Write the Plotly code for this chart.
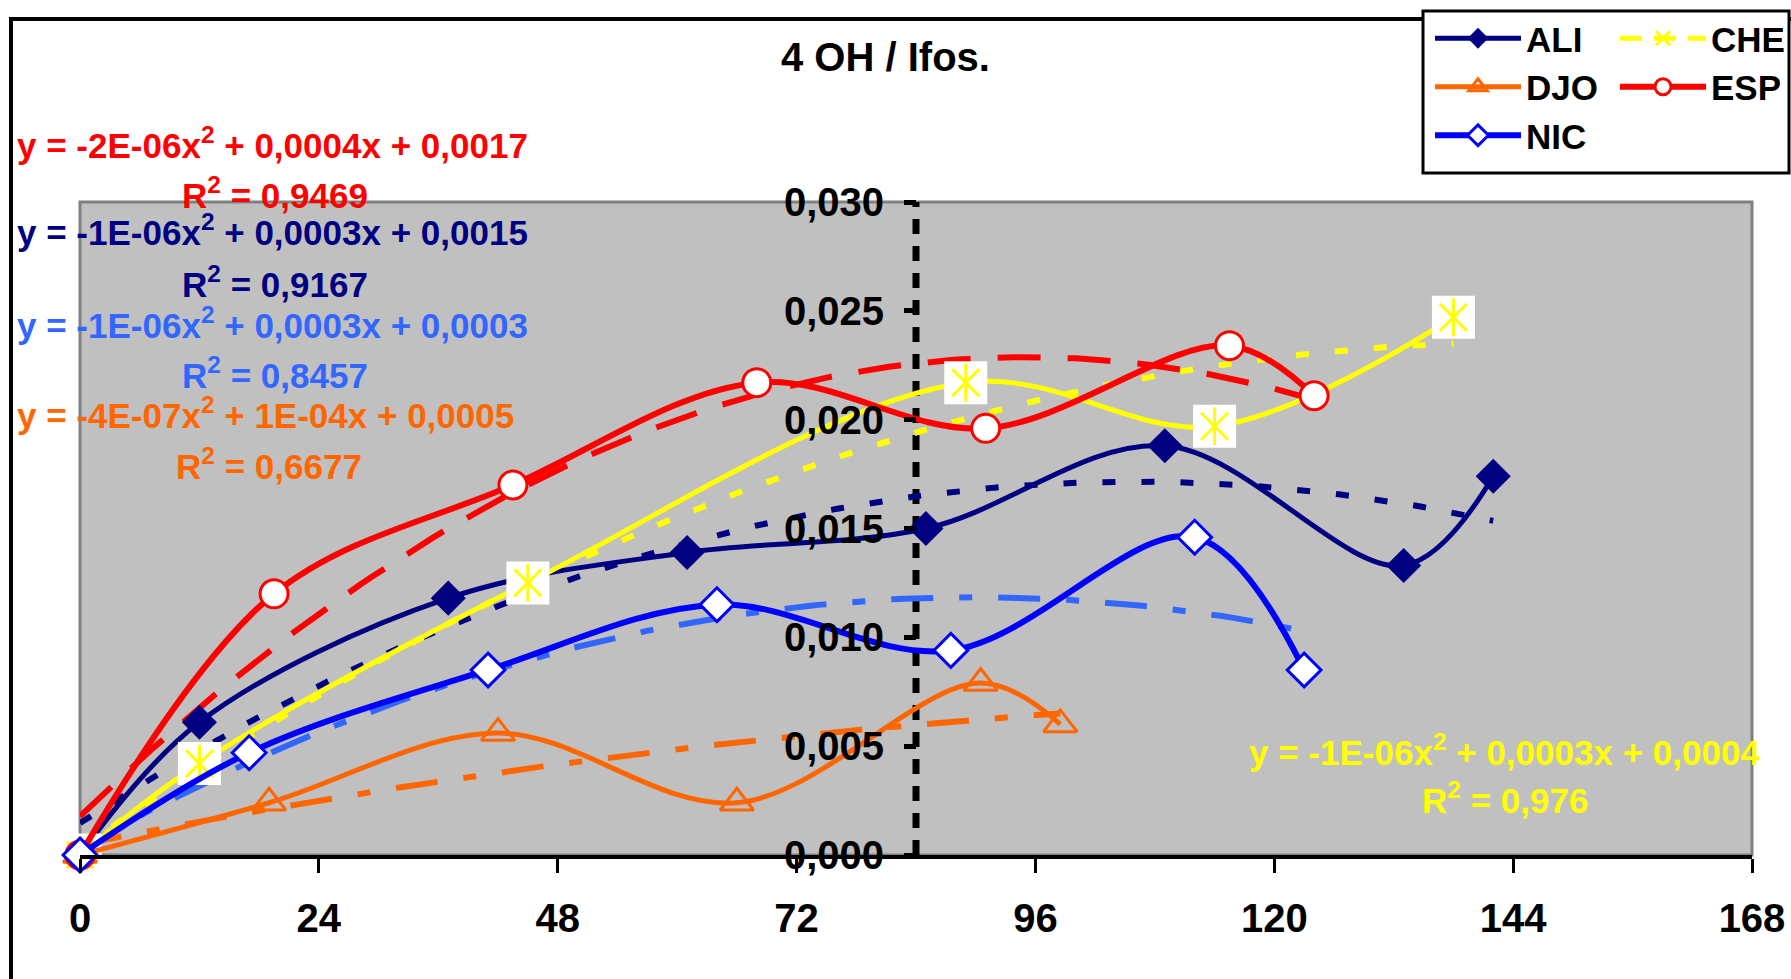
import numpy as np
import plotly.graph_objects as go

# ---------------- data ----------------
ali_x = [0, 12, 37, 61, 85, 109, 133, 142]
ali_y = [0.0, 0.0061, 0.0118, 0.0139, 0.0150, 0.0188, 0.0133, 0.0174]

che_x = [0, 12, 45, 89, 114, 138]
che_y = [0.0, 0.0042, 0.0125, 0.0217, 0.0197, 0.0247]

djo_x = [0, 19, 42, 66, 90.5, 98.5]
djo_y = [0.0, 0.0024, 0.0056, 0.0024, 0.0079, 0.0060]

esp_x = [0, 19.5, 43.5, 68, 91, 115.5, 124]
esp_y = [0.0, 0.0120, 0.0170, 0.0217, 0.0196, 0.0234, 0.0211]

nic_x = [0, 17, 41, 64, 87.5, 112, 123]
nic_y = [0.0, 0.0047, 0.0085, 0.0115, 0.0094, 0.0146, 0.0085]

x_ticks = [0, 24, 48, 72, 96, 120, 144, 168]
y_ticks = [0.000, 0.005, 0.010, 0.015, 0.020, 0.025, 0.030]
y_axis_cross = 84  # x value where the value axis crosses

trend_eq = {
    "ESP": ("y = -2E-06x<sup>2</sup> + 0,0004x + 0,0017", "R<sup>2</sup> = 0,9469"),
    "ALI": ("y = -1E-06x<sup>2</sup> + 0,0003x + 0,0015", "R<sup>2</sup> = 0,9167"),
    "NIC": ("y = -1E-06x<sup>2</sup> + 0,0003x + 0,0003", "R<sup>2</sup> = 0,8457"),
    "DJO": ("y = -4E-07x<sup>2</sup> + 1E-04x + 0,0005", "R<sup>2</sup> = 0,6677"),
    "CHE": ("y = -1E-06x<sup>2</sup> + 0,0003x + 0,0004", "R<sup>2</sup> = 0,976"),
}

NAVY, ORANGE, BLUE, RED, YELLOW, LBLUE = "#000080", "#FF6600", "#0000FF", "#FF0000", "#FFFF00", "#3366FF"
FONT = "Liberation Sans"

# ---------------- geometry helpers (layout only) ----------------
W, H = 1791, 979
PL, PR, PT, PB = 80, 1752, 202, 855


def fx(p):
    return (p - PL) / (PR - PL)


def fy(p):
    return (PB - p) / (PB - PT)


fig = go.Figure()


# ---------------- polynomial (order 2) trendlines ----------------
def add_trend(xs, ys, color, dash, width):
    c = np.polyfit(xs, ys, 2)
    xt = np.linspace(min(xs), max(xs), 120)
    fig.add_trace(go.Scatter(x=xt, y=np.polyval(c, xt), mode="lines",
                             line=dict(color=color, width=width, dash=dash),
                             showlegend=False, hoverinfo="skip"))


add_trend(ali_x, ali_y, NAVY, "13px,26px", 6)
add_trend(che_x, che_y, YELLOW, "13px,26px", 6)
add_trend(djo_x, djo_y, ORANGE, "42px,26px,13px,26px", 6)
add_trend(esp_x, esp_y, RED, "43px,27px", 6)
add_trend(nic_x, nic_y, LBLUE, "42px,26px,13px,26px", 6)

# ---------------- series ----------------
fig.add_trace(go.Scatter(x=ali_x, y=ali_y, name="ALI", mode="lines+markers",
                         line=dict(color=NAVY, width=5, shape="spline"),
                         marker=dict(symbol="diamond", size=27, color=NAVY),
                         cliponaxis=False, legend="legend"))

# CHE: solid line, white square behind an asterisk-like glyph
fig.add_trace(go.Scatter(x=che_x, y=che_y, mode="lines", showlegend=False,
                         line=dict(color=YELLOW, width=5, shape="spline"), cliponaxis=False))
fig.add_trace(go.Scatter(x=che_x, y=che_y, mode="markers", showlegend=False,
                         marker=dict(symbol="square", size=43, color="white"), cliponaxis=False))
fig.add_trace(go.Scatter(x=che_x, y=che_y, mode="markers", showlegend=False,
                         marker=dict(symbol="x-thin-open", size=27, color=YELLOW,
                                     line=dict(color=YELLOW, width=3)), cliponaxis=False))
fig.add_trace(go.Scatter(x=che_x, y=che_y, mode="markers", showlegend=False,
                         marker=dict(symbol="line-ns-open", size=27, color=YELLOW,
                                     line=dict(color=YELLOW, width=3)), cliponaxis=False))
fig.add_trace(go.Scatter(x=[None], y=[None], name="CHE", mode="lines+markers",
                         line=dict(color=YELLOW, width=5, dash="22px,12px"),
                         marker=dict(symbol="x-thin-open", size=14, color=YELLOW,
                                     line=dict(color=YELLOW, width=3)),
                         legend="legend2"))

fig.add_trace(go.Scatter(x=djo_x, y=djo_y, name="DJO", mode="lines+markers",
                         line=dict(color=ORANGE, width=5, shape="spline"),
                         marker=dict(symbol="triangle-up-open", size=29, color=ORANGE,
                                     line=dict(color=ORANGE, width=3)),
                         cliponaxis=False, legend="legend"))

fig.add_trace(go.Scatter(x=esp_x, y=esp_y, name="ESP", mode="lines+markers",
                         line=dict(color=RED, width=6, shape="spline"),
                         marker=dict(symbol="circle", size=28, color="white",
                                     line=dict(color=RED, width=3)),
                         cliponaxis=False, legend="legend2"))

fig.add_trace(go.Scatter(x=nic_x, y=nic_y, name="NIC", mode="lines+markers",
                         line=dict(color=BLUE, width=6, shape="spline"),
                         marker=dict(symbol="diamond", size=26, color="white",
                                     line=dict(color=BLUE, width=3)),
                         cliponaxis=False, legend="legend"))

# ---------------- annotations ----------------
ann = []
ann.append(dict(text="4 OH / Ifos.", x=fx(885), y=fy(57), xref="paper", yref="paper",
                showarrow=False, xanchor="center", yanchor="middle",
                font=dict(family=FONT, size=40, color="black", weight="bold")))

eq_layout = [
    ("ESP", RED, 143, 193, 180),
    ("ALI", NAVY, 230, 282, 180),
    ("NIC", LBLUE, 323, 373, 180),
    ("DJO", ORANGE, 413, 464, 174),
]
for key, col, ye, yr, xr in eq_layout:
    eq, r2 = trend_eq[key]
    ann.append(dict(text=eq, x=fx(15), y=fy(ye), xref="paper", yref="paper", showarrow=False,
                    xanchor="left", yanchor="middle",
                    font=dict(family=FONT, size=35, color=col, weight="bold")))
    ann.append(dict(text=r2, x=fx(xr), y=fy(yr), xref="paper", yref="paper", showarrow=False,
                    xanchor="left", yanchor="middle",
                    font=dict(family=FONT, size=35, color=col, weight="bold")))
eq, r2 = trend_eq["CHE"]
ann.append(dict(text=eq, x=fx(1247), y=fy(750), xref="paper", yref="paper", showarrow=False,
                xanchor="left", yanchor="middle",
                font=dict(family=FONT, size=35, color=YELLOW, weight="bold")))
ann.append(dict(text=r2, x=fx(1420), y=fy(798), xref="paper", yref="paper", showarrow=False,
                xanchor="left", yanchor="middle",
                font=dict(family=FONT, size=35, color=YELLOW, weight="bold")))

# ---------------- shapes ----------------
shapes = [
    # outer chart frame
    dict(type="rect", xref="paper", yref="paper", x0=fx(11), y0=fy(19), x1=fx(1800), y1=fy(1010),
         line=dict(color="black", width=4), fillcolor="rgba(0,0,0,0)", layer="below"),
    # plot-area border
    dict(type="rect", xref="paper", yref="paper", x0=0, y0=0, x1=1, y1=1,
         line=dict(color="#808080", width=3), fillcolor="rgba(0,0,0,0)", layer="below"),
    # dashed value axis
    dict(type="line", xref="x", yref="y", x0=y_axis_cross, x1=y_axis_cross,
         y0=y_ticks[0], y1=y_ticks[-1], line=dict(color="black", width=7, dash="15px,12px"),
         layer="below"),
    # legend box
    dict(type="rect", xref="paper", yref="paper", x0=fx(1423), y0=fy(11), x1=fx(1789), y1=fy(173),
         line=dict(color="black", width=3), fillcolor="white", layer="above"),
]

legend_font = dict(family=FONT, size=35, color="black", weight="bold")

fig.update_layout(
    width=W, height=H,
    margin=dict(l=PL, r=W - PR, t=PT, b=H - PB, autoexpand=False),
    paper_bgcolor="white", plot_bgcolor="#C0C0C0",
    separators=", ",
    annotations=ann, shapes=shapes,
    legend=dict(x=fx(1430), y=fy(9), xanchor="left", yanchor="top", orientation="v",
                bgcolor="rgba(0,0,0,0)", borderwidth=0, font=legend_font, itemwidth=86,
                tracegroupgap=0),
    legend2=dict(x=fx(1615), y=fy(9), xanchor="left", yanchor="top", orientation="v",
                 bgcolor="rgba(0,0,0,0)", borderwidth=0, font=legend_font, itemwidth=86,
                 tracegroupgap=0),
    xaxis=dict(range=[x_ticks[0], x_ticks[-1]], tickvals=x_ticks, ticks="outside", ticklen=14,
               tickwidth=3, tickcolor="black", showline=True, linecolor="black", linewidth=4,
               showgrid=False, zeroline=False, ticklabelstandoff=11,
               tickfont=dict(family=FONT, size=40, color="black", weight="bold")),
    yaxis=dict(range=[y_ticks[0], y_ticks[-1]], tickvals=y_ticks, tickformat=".3f",
               anchor="free", position=y_axis_cross / x_ticks[-1], side="left",
               ticks="outside", ticklen=12, tickwidth=5, tickcolor="black",
               showline=False, showgrid=False, zeroline=False, ticklabelstandoff=12,
               tickfont=dict(family=FONT, size=40, color="black", weight="bold")),
    showlegend=True,
)

fig.write_html("out.html")
